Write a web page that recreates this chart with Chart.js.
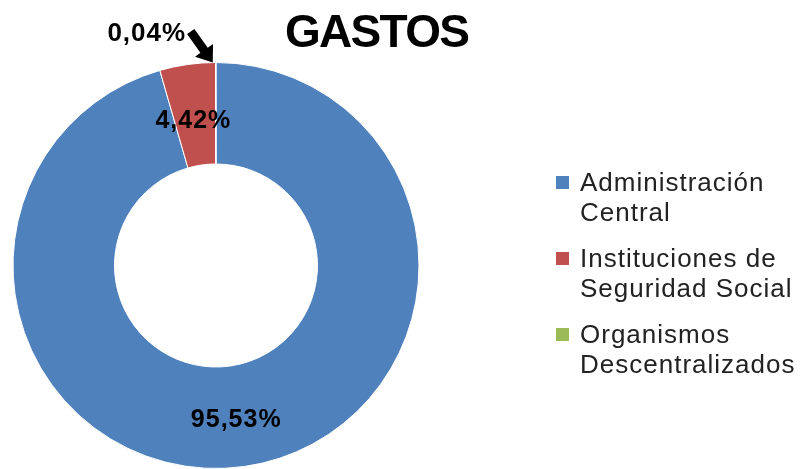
<!DOCTYPE html>
<html lang="es">
<head>
    <meta charset="UTF-8">
    <title>Gastos</title>
    <script src="https://cdn.jsdelivr.net/npm/chart.js"></script>
    <style>
        body { margin: 0; background: #fff; width: 802px; height: 469px; overflow: hidden; position: relative; font-family: "Liberation Sans", Arial, sans-serif; }
        #myChart { position: absolute; left: 0; top: 0; }
        #title { position: absolute; left: 285px; top: 4px; font-size: 46px; font-weight: bold; letter-spacing: -1.7px; color: #000; }
        #legend { position: absolute; left: 556px; top: 167px; font-size: 26px; letter-spacing: 1px; color: #222; line-height: 30px; }
        .item { position: relative; padding-left: 24px; margin-bottom: 16px; }
        .box { position: absolute; left: 0; top: 9px; width: 13px; height: 13px; }
    </style>
</head>
<body>
    <canvas id="myChart" width="802" height="469"></canvas>
    <div id="title">GASTOS</div>
    <div id="legend"></div>

    <script>
        // values
        const categories = [
            ['Administración', 'Central'],
            ['Instituciones de', 'Seguridad Social'],
            ['Organismos', 'Descentralizados']
        ];
        const values = [95.53, 4.42, 0.04];
        const labels = ['95,53%', '4,42%', '0,04%'];
        const colors = ['#4F81BD', '#C0504D', '#9BBB59'];

        // legend as html
        const legend = document.getElementById('legend');
        categories.forEach((c, i) => {
            const d = document.createElement('div');
            d.className = 'item';
            d.innerHTML = '<span class="box" style="background:' + colors[i] + '"></span>' + c.join('<br>');
            legend.appendChild(d);
        });

        // labels on slices + arrow for the tiny one
        const sliceLabels = {
            id: 'sliceLabels',
            afterDatasetsDraw(chart) {
                const ctx = chart.ctx;
                const arcs = chart.getDatasetMeta(0).data;
                ctx.save();
                ctx.fillStyle = '#000';
                ctx.font = 'bold 25px "Liberation Sans", Arial, sans-serif';
                ctx.letterSpacing = '1px';
                ctx.textAlign = 'center';
                ctx.textBaseline = 'middle';

                // big slice: label near bottom of the ring
                let a = arcs[0];
                let r = (a.innerRadius + a.outerRadius) / 2 + 4;
                let ang = Math.PI / 2 - 0.13;
                ctx.fillText(labels[0], a.x + r * Math.cos(ang), a.y + r * Math.sin(ang));

                // red slice
                a = arcs[1];
                r = a.outerRadius * 0.72;
                ang = (a.startAngle + a.endAngle) / 2;
                ctx.fillText(labels[1], a.x + r * Math.cos(ang) - 2, a.y + r * Math.sin(ang));

                // green slice, label outside with arrow
                a = arcs[2];
                ang = (a.startAngle + a.endAngle) / 2;
                const tx = a.x + a.outerRadius * Math.cos(ang) - 3;
                const ty = a.y + a.outerRadius * Math.sin(ang);
                ctx.font = 'bold 26px "Liberation Sans", Arial, sans-serif';
                ctx.fillText(labels[2], tx - 66, ty - 29);

                // arrow
                const sx = tx - 22, sy = ty - 31;
                const dir = Math.atan2(ty - sy, tx - sx);
                const len = Math.hypot(tx - sx, ty - sy);
                ctx.translate(sx, sy);
                ctx.rotate(dir);
                ctx.beginPath();
                ctx.moveTo(0, -4.5);
                ctx.lineTo(len - 15, -4.5);
                ctx.lineTo(len - 15, -11);
                ctx.lineTo(len, 0);
                ctx.lineTo(len - 15, 11);
                ctx.lineTo(len - 15, 4.5);
                ctx.lineTo(0, 4.5);
                ctx.closePath();
                ctx.fill();
                ctx.restore();
            }
        };

        const ctx = document.getElementById('myChart').getContext('2d');
        new Chart(ctx, {
            type: 'doughnut',
            data: {
                labels: categories.map(c => c.join(' ')),
                datasets: [{
                    data: values,
                    backgroundColor: colors,
                    borderColor: '#fff',
                    borderWidth: 1
                }]
            },
            options: {
                responsive: false,
                animation: false,
                cutout: '50%',
                layout: { padding: { left: 12, top: 62, right: 382, bottom: 0 } },
                plugins: {
                    legend: { display: false },
                    tooltip: { enabled: false }
                }
            },
            plugins: [sliceLabels]
        });
    </script>
</body>
</html>
